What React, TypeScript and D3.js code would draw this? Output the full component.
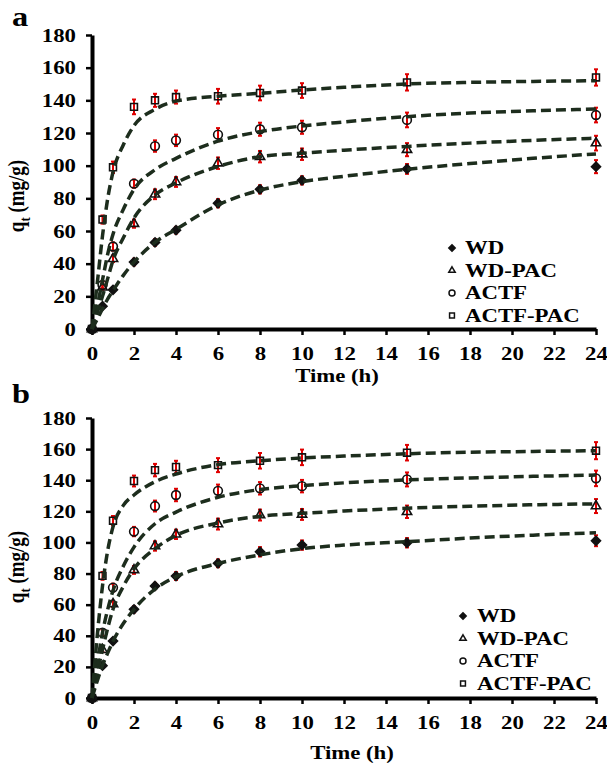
import React, { useEffect, useRef } from "react";
import * as d3 from "d3";

// sampling times (h)
const times = [0, 0.5, 1, 2, 3, 4, 6, 8, 10, 15, 24];
const fitTimes = [0, 0.25, 0.5, 0.75, 1, 1.5, 2, 3, 4, 6, 8, 10, 12, 15, 18, 21, 24];
const seriesNames = ["WD", "WD-PAC", "ACTF", "ACTF-PAC"];
const xTicks = [0, 2, 4, 6, 8, 10, 12, 14, 16, 18, 20, 22, 24];
const yTicks = [0, 20, 40, 60, 80, 100, 120, 140, 160, 180];

// panel a - measured q_t (mg/g)
const wdA = [0, 14, 24, 41, 53, 60.5, 77, 85.5, 91, 98, 99.4];
const wdPacA = [0, 25.5, 43, 64.5, 82.5, 90, 101.5, 105.5, 107, 109.8, 113.8];
const actfA = [0, 27, 50.5, 89, 112, 115.5, 119, 122.3, 123.5, 128, 131];
const actfPacA = [0, 67, 99, 136, 140, 142, 142.5, 144.5, 146, 151, 154];
// panel a - error bars
const wdErrA = [0, 1, 1.5, 2, 2, 2, 2.5, 2.5, 2.5, 3, 4];
const wdPacErrA = [0, 1.5, 2, 2.5, 3, 3, 3.5, 3.5, 3.5, 4, 4.5];
const actfErrA = [0, 2, 2.5, 2.5, 3.5, 3.5, 4, 4, 4, 4.5, 4.5];
const actfPacErrA = [0, 2.5, 3.5, 4.5, 4, 4, 4.5, 4.5, 4.5, 5, 5];
// panel a - fitted curves
const wdFitA = [0, 6, 12.5, 18.5, 23.5, 33, 41, 53, 61, 76, 85, 90.2, 93.5, 97.8, 101.3, 104.5, 107.2];
const wdPacFitA = [0, 10, 20, 31, 42, 56, 68, 82, 89.5, 99.5, 105.5, 107.6, 109.5, 111.8, 113.8, 115.5, 116.8];
const actfFitA = [0, 14, 30, 46, 58, 73.5, 85.5, 97.5, 104.5, 115, 120.8, 124.3, 126.8, 130, 132.2, 133.6, 134.7];
const actfPacFitA = [0, 28, 57, 80, 96, 113, 124.5, 134.5, 139.5, 142.5, 144.3, 146.3, 148, 150, 151, 151.6, 152];

// panel b - measured q_t (mg/g)
const wdB = [0, 20.8, 36.6, 57, 72, 78.4, 86.6, 94, 98.3, 99.8, 101.1];
const wdPacB = [0, 31, 60.5, 82.3, 97.7, 105.2, 111.8, 117.6, 118, 119.7, 123.4];
const actfB = [0, 42, 71, 107, 123.4, 130.5, 133.2, 134.8, 136.2, 140.5, 141.2];
const actfPacB = [0, 78.5, 114, 139.5, 146.5, 148.5, 149.7, 152.5, 154.7, 157.7, 159];
// panel b - error bars
const wdErrB = [0, 1, 1.5, 2, 2, 2.5, 2.5, 3, 3, 3, 3.5];
const wdPacErrB = [0, 1.5, 2, 2.5, 3, 3, 3.5, 3.5, 3.5, 4, 4.5];
const actfErrB = [0, 2, 2.5, 3, 3.5, 4, 4, 4, 4, 4.5, 5];
const actfPacErrB = [0, 2.5, 3, 3.5, 4, 4, 4.5, 5, 5, 5, 5.5];
// panel b - fitted curves
const wdFitB = [0, 11, 21, 29, 36.5, 48, 57, 70, 78, 86.5, 92, 96, 98.3, 100.5, 102.8, 104.7, 106.2];
const wdPacFitB = [0, 16, 31, 45, 57, 72, 83, 96, 104.5, 112.5, 116.8, 118.7, 120.2, 122, 123.3, 124.2, 124.8];
const actfFitB = [0, 22, 42, 57, 69, 85, 97, 112, 119.5, 129, 134, 136.5, 138.3, 140.2, 141.5, 142.5, 143.3];
const actfPacFitB = [0, 40, 72, 95, 110, 124, 130.5, 139, 144, 150, 152.5, 154.3, 155.5, 157, 158, 158.5, 159];

const FONT = "Liberation Serif, Times New Roman, serif";
const STRETCH = 1.2; // source figure is horizontally stretched
const lineColor = "#1d2d1d";
const errColor = "#e00000";

const symbols = [d3.symbolDiamond2, d3.symbolTriangle2, d3.symbolCircle, d3.symbolSquare2];
const plotSize = [52, 62, 60, 60];
const legendSize = [26, 30, 28, 30];
const filled = [true, false, false, false];

type PanelCfg = {
  label: string;
  labelY: number;
  top: number;
  bottom: number;
  values: number[][];
  errs: number[][];
  fits: number[][];
  legendX: number;
  legendTextX: number;
  legendBase: number;
  titleX: number;
  titleY: number;
  yTitleY: number;
};

const panels: PanelCfg[] = [
  {
    label: "a",
    labelY: 26,
    top: 35,
    bottom: 329,
    values: [wdA, wdPacA, actfA, actfPacA],
    errs: [wdErrA, wdPacErrA, actfErrA, actfPacErrA],
    fits: [wdFitA, wdPacFitA, actfFitA, actfPacFitA],
    legendX: 452,
    legendTextX: 465,
    legendBase: 254,
    titleX: 337,
    titleY: 382,
    yTitleY: 196,
  },
  {
    label: "b",
    labelY: 403,
    top: 418,
    bottom: 698,
    values: [wdB, wdPacB, actfB, actfPacB],
    errs: [wdErrB, wdPacErrB, actfErrB, actfPacErrB],
    fits: [wdFitB, wdPacFitB, actfFitB, actfPacFitB],
    legendX: 463,
    legendTextX: 477,
    legendBase: 622,
    titleX: 352,
    titleY: 759,
    yTitleY: 567,
  },
];

const drawPanel = (svg: any, p: PanelCfg) => {
  const x = d3.scaleLinear().domain([0, 24]).range([92, 596]);
  const y = d3.scaleLinear().domain([0, 180]).range([p.bottom, p.top]);
  const g = svg.append("g");

  // axes
  const yAxis = g
    .append("g")
    .attr("transform", `translate(${x(0)},0)`)
    .call(d3.axisLeft(y).tickValues(yTicks).tickSize(6).tickSizeOuter(0).tickPadding(10));
  const xAxis = g
    .append("g")
    .attr("transform", `translate(0,${y(0)})`)
    .call(d3.axisBottom(x).tickValues(xTicks).tickSize(6).tickSizeOuter(0).tickPadding(12));

  [yAxis, xAxis].forEach((ax) => {
    ax.select(".domain").attr("stroke", "#000").attr("stroke-width", 4);
    ax.selectAll(".tick line").attr("stroke", "#000").attr("stroke-width", 2.5);
    ax.selectAll(".tick text")
      .attr("font-family", FONT)
      .attr("font-weight", "bold")
      .attr("font-size", 19)
      .attr("fill", "#000");
  });
  yAxis.selectAll(".tick text").attr("x", -16 / STRETCH).attr("transform", `scale(${STRETCH},1)`);
  xAxis.selectAll(".tick text").attr("transform", `scale(${STRETCH},1)`);

  const text = (tx: number, ty: number, size: number, anchor = "start", rot = 0) =>
    g
      .append("text")
      .attr("transform", `translate(${tx},${ty}) scale(${STRETCH},1) rotate(${rot})`)
      .attr("font-family", FONT)
      .attr("font-weight", "bold")
      .attr("font-size", size)
      .attr("text-anchor", anchor)
      .attr("fill", "#000");

  text(12, p.labelY, 27).text(p.label);
  text(p.titleX, p.titleY, 19, "middle").text("Time (h)");
  const yt = text(24, p.yTitleY, 19, "middle", -90);
  yt.append("tspan").text("q");
  yt.append("tspan").attr("font-size", 13).attr("dy", 5).text("t");
  yt.append("tspan").attr("dy", -5).text(" (mg/g)");

  // error bars
  p.values.forEach((vals, si) => {
    const errs = p.errs[si];
    const eb = g.append("g").attr("stroke", errColor).attr("stroke-width", 2);
    vals.forEach((v, i) => {
      if (!errs[i]) return;
      const cx = x(times[i]);
      eb.append("line").attr("x1", cx).attr("x2", cx).attr("y1", y(v - errs[i])).attr("y2", y(v + errs[i]));
      [v - errs[i], v + errs[i]].forEach((e) =>
        eb.append("line").attr("x1", cx - 2).attr("x2", cx + 2).attr("y1", y(e)).attr("y2", y(e))
      );
    });
  });

  // markers
  p.values.forEach((vals, si) => {
    const sym = d3.symbol().type(symbols[si]).size(plotSize[si]);
    g.append("g")
      .selectAll("path")
      .data(vals)
      .enter()
      .append("path")
      .attr("d", sym)
      .attr("transform", (d: number, i: number) => `translate(${x(times[i])},${y(d)})`)
      .attr("fill", filled[si] ? "#111" : "none")
      .attr("stroke", "#111")
      .attr("stroke-width", 1.6);
  });

  // fitted curves
  const line = d3
    .line<number>()
    .x((d, i) => x(fitTimes[i]))
    .y((d) => y(d))
    .curve(d3.curveMonotoneX);
  p.fits.forEach((f) => {
    g.append("path")
      .attr("d", line(f))
      .attr("fill", "none")
      .attr("stroke", lineColor)
      .attr("stroke-width", 3.5)
      .attr("stroke-dasharray", "10,5");
  });

  // legend
  seriesNames.forEach((name, si) => {
    const base = p.legendBase + si * 22.5;
    g.append("path")
      .attr("d", d3.symbol().type(symbols[si]).size(legendSize[si]))
      .attr("transform", `translate(${p.legendX},${base - 6})`)
      .attr("fill", filled[si] ? "#111" : "none")
      .attr("stroke", "#111")
      .attr("stroke-width", 1.5);
    text(p.legendTextX, base, 19).text(name);
  });
};

const App = () => {
  const ref = useRef<SVGSVGElement | null>(null);

  useEffect(() => {
    const svg = d3.select(ref.current);
    svg.selectAll("*").remove();
    panels.forEach((p) => drawPanel(svg, p));
  }, []);

  return (
    <svg
      ref={ref}
      width={607}
      height={765}
      style={{ position: "absolute", left: 0, top: 0, background: "#fff" }}
    />
  );
};

export default App;
